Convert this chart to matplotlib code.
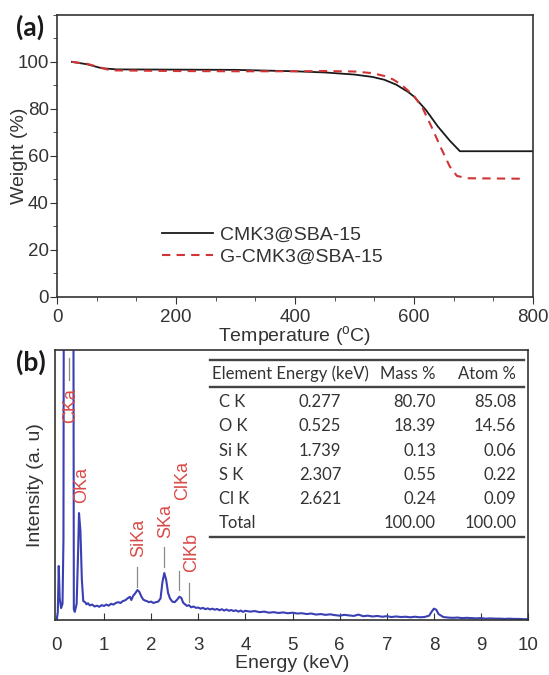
import numpy as np
import matplotlib
matplotlib.use('Agg')
import matplotlib.pyplot as plt
from matplotlib.ticker import MultipleLocator, AutoMinorLocator

plt.rcParams['font.family'] = ['Liberation Sans', 'DejaVu Sans']
plt.rcParams['mathtext.fontset'] = 'custom'
plt.rcParams['mathtext.rm'] = 'Liberation Sans'

# (a) TGA curves
temp_cmk = [25, 50, 75, 100, 200, 300, 400, 450, 500, 530, 550, 570, 590, 600,
            620, 640, 660, 677, 800]
weight_cmk = [100, 99.0, 97.3, 96.8, 96.7, 96.6, 96.0, 95.5, 94.6, 93.6, 92.4,
              90.3, 87.2, 85.2, 79.5, 72.5, 66.5, 62.0, 62.0]

temp_g = [25, 50, 90, 200, 300, 400, 450, 500, 530, 550, 565, 580, 600, 615,
          630, 645, 660, 672, 690, 785]
weight_g = [100, 99.2, 96.4, 96.1, 96.0, 96.0, 96.1, 95.9, 95.2, 94.0, 92.5,
            90.0, 85.5, 80.0, 72.0, 63.5, 55.5, 51.5, 50.5, 50.3]

# (b) EDS spectrum
energy = [0.00, 0.02, 0.04, 0.06, 0.09, 0.12, 0.14, 0.25, 0.36, 0.38, 0.42,
          0.45, 0.47, 0.50, 0.53, 0.56, 0.60, 0.63, 0.66, 0.70, 0.75, 0.80,
          0.85, 0.90, 0.95, 1.00, 1.05, 1.10, 1.15, 1.20, 1.25, 1.30, 1.35,
          1.40, 1.45, 1.50, 1.55, 1.58, 1.62, 1.66, 1.71, 1.75, 1.79, 1.83,
          1.87, 1.91, 1.95, 2.00, 2.05, 2.10, 2.15, 2.20, 2.24, 2.28, 2.32,
          2.36, 2.40, 2.45, 2.50, 2.55, 2.60, 2.64, 2.68, 2.72, 2.76, 2.80,
          2.85, 2.90, 2.95, 3.00, 3.05, 3.10, 3.15, 3.20, 3.25, 3.30, 3.35,
          3.40, 3.45, 3.50, 3.55, 3.60, 3.65, 3.70, 3.75, 3.80, 3.85, 3.90,
          3.95, 4.00, 4.10, 4.20, 4.30, 4.40, 4.50, 4.60, 4.70, 4.80,
          4.90, 5.00, 5.10, 5.20, 5.30, 5.40, 5.50, 5.60, 5.70, 5.80, 5.90,
          6.00, 6.10, 6.20, 6.30, 6.40, 6.50, 6.60, 6.70, 6.80, 6.90, 7.00,
          7.10, 7.20, 7.30, 7.40, 7.50, 7.60, 7.70, 7.80, 7.90, 7.95, 8.00,
          8.05, 8.10, 8.20, 8.30, 8.40, 8.50, 8.60, 8.70, 8.80, 8.90, 9.00,
          9.10, 9.20, 9.30, 9.40, 9.50, 9.60, 9.70, 9.80, 9.90, 10.00]
intensity = [5, 30, 200, 80, 44, 60, 300, 15000, 40, 30, 60,
             250, 396, 330, 150, 70, 66, 58, 62, 54, 57, 50,
             53, 49, 55, 52, 57, 53, 60, 57, 63, 66, 63,
             70, 73, 80, 86, 74, 90, 98, 111, 104, 88, 76,
             72, 70, 66, 68, 63, 66, 68, 80, 140, 174, 148,
             100, 80, 68, 66, 75, 86, 82, 64, 58, 52, 55,
             47, 50, 45, 46, 42, 45, 40, 43, 39, 42, 38,
             41, 36, 40, 35, 39, 34, 37, 33, 36, 31, 35,
             30, 34, 31, 33, 29, 31, 27, 29, 26, 28,
             25, 27, 24, 25, 22, 24, 20, 22, 19, 21, 18,
             16, 19, 17, 15, 20, 14, 16, 13, 15, 12, 14,
             11, 13, 11, 12, 10, 12, 10, 11, 16, 30, 42,
             38, 22, 11, 9, 8, 9, 7, 8, 7, 6, 7,
             5, 6, 5, 5, 4, 5, 4, 4, 3, 3]

peak_names = ['CKa', 'OKa', 'SiKa', 'SKa', 'ClKa', 'ClKb']
peak_text_x = [0.29, 0.53, 1.74, 2.32, 2.66, 2.86]
peak_text_y = [730, 432, 235, 302, 444, 179]
marker_x = [0.26, 1.71, 2.28, 2.60, 2.81]
marker_y0 = [889, 123, 197, 111, 68]
marker_y1 = [970, 197, 271, 183, 137]

table_header = ['Element Energy (keV)', 'Mass %', 'Atom %']
table_elem = ['C K', 'O K', 'Si K', 'S K', 'Cl K', 'Total']
table_energy = ['0.277', '0.525', '1.739', '2.307', '2.621', '']
table_mass = ['80.70', '18.39', '0.13', '0.55', '0.24', '100.00']
table_atom = ['85.08', '14.56', '0.06', '0.22', '0.09', '100.00']

fig = plt.figure(figsize=(5.49, 6.75), dpi=100)

# ---- (a)
ax1 = fig.add_axes([0.104, 0.56, 0.867, 0.418])
ax1.plot(temp_cmk, weight_cmk, '-', color='#1a1a1a', lw=1.3, label='CMK3@SBA-15')
ax1.plot(temp_g, weight_g, '--', color='#d03434', lw=1.5, dashes=(4, 3),
         label='G-CMK3@SBA-15')
ax1.set_xlim(0, 800)
ax1.set_ylim(0, 120)
ax1.xaxis.set_major_locator(MultipleLocator(200))
ax1.xaxis.set_minor_locator(AutoMinorLocator(3))
ax1.set_yticks([0, 20, 40, 60, 80, 100])
ax1.yaxis.set_minor_locator(MultipleLocator(10))
ax1.tick_params(which='both', direction='out', labelsize=13.5, colors='#333333',
                labelcolor='#333333')
ax1.tick_params(which='major', length=5)
ax1.tick_params(which='minor', length=3)
ax1.tick_params(axis='y', pad=1)
for s in ax1.spines.values():
    s.set_linewidth(1.2)
    s.set_color('#333333')
ax1.set_xlabel(r'Temperature ($^\mathregular{o}$C)', fontsize=14,
               color='#333333', labelpad=-1)
ax1.set_ylabel('Weight (%)', fontsize=14, color='#333333')
ax1.yaxis.set_label_coords(-0.062, 0.5)
ax1.legend(loc='center left', bbox_to_anchor=(0.2, 0.18), frameon=False,
           fontsize=14, handlelength=2.6, handletextpad=0.4,
           labelspacing=0.2, borderpad=0, labelcolor='#333333')
fig.text(0.03, 0.96, '(a)', fontsize=19, fontweight='bold', va='center',
         family=['Lato', 'DejaVu Sans'], color='#1a1a1a')

# ---- (b)
ax2 = fig.add_axes([0.101, 0.0815, 0.861, 0.40])
ax2.plot(energy, intensity, '-', color='#3a3fb3', lw=1.5)
ax2.set_xlim(-0.03, 10)
ax2.set_ylim(0, 1000)
ax2.xaxis.set_major_locator(MultipleLocator(1))
ax2.set_yticks([])
ax2.tick_params(axis='x', direction='in', length=5, labelsize=13.5,
                colors='#333333', labelcolor='#333333', pad=12)
for s in ax2.spines.values():
    s.set_linewidth(1.2)
    s.set_color('#333333')
ax2.set_xlabel('Energy (keV)', fontsize=14, color='#333333', labelpad=1)
ax2.set_ylabel('Intensity (a. u)', fontsize=14, color='#333333')
ax2.yaxis.set_label_coords(-0.024, 0.5)
fig.text(0.03, 0.463, '(b)', fontsize=19, fontweight='bold', va='center',
         family=['Lato', 'DejaVu Sans'], color='#1a1a1a')

for name, tx, ty in zip(peak_names, peak_text_x, peak_text_y):
    ax2.text(tx, ty, name, rotation=90, ha='center', va='bottom',
             fontsize=13, color='#d94a48')
for mx, y0, y1 in zip(marker_x, marker_y0, marker_y1):
    ax2.plot([mx, mx], [y0, y1], color='#8a8a8a', lw=0.9)

# table drawn as text on the axes
tr = ax2.transAxes
for yy in [0.963, 0.863, 0.307]:
    ax2.plot([0.327, 0.991], [yy, yy], color='#444444', lw=1.7, transform=tr,
             clip_on=False)
tfont = dict(family=['Lato', 'DejaVu Sans'], fontsize=12, color='#333333',
             va='center', transform=tr)
ax2.text(0.331, 0.911, table_header[0], ha='left', **tfont)
ax2.text(0.805, 0.911, table_header[1], ha='right', **tfont)
ax2.text(0.975, 0.911, table_header[2], ha='right', **tfont)
row_y = [0.807, 0.719, 0.626, 0.537, 0.448, 0.359]
for i, yy in enumerate(row_y):
    ax2.text(0.346, yy, table_elem[i], ha='left', **tfont)
    ax2.text(0.56, yy, table_energy[i], ha='center', **tfont)
    ax2.text(0.805, yy, table_mass[i], ha='right', **tfont)
    ax2.text(0.975, yy, table_atom[i], ha='right', **tfont)

fig.savefig('out.png', dpi=100)
